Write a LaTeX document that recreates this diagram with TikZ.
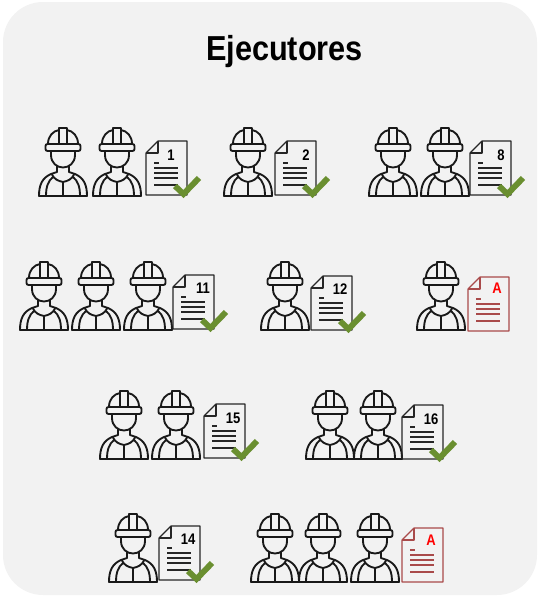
\documentclass[tikz,border=0pt]{standalone}
\usepackage{fontspec}
\setmainfont{Liberation Sans}
\definecolor{panel}{HTML}{F2F2F2}
\definecolor{okgreen}{HTML}{6A8F30}
\definecolor{redline}{HTML}{A94A4A}
\tikzset{
  x=0.75pt,y=-0.75pt,
  wline/.style={line width=1.4pt,black!90,line join=round,line cap=round},
  pics/worker/.style={code={
    \draw[wline] (-15,17) .. controls (-15,9) and (-10,4) .. (-4,3) (4,3) .. controls (10,4) and (15,9) .. (15,17);
    \draw[wline] (-4,17) -- (-4,1) -- (4,1) -- (4,17);
    \draw[wline,rounded corners=1.5pt] (-17.5,17) rectangle (17.5,24);
    \draw[wline] (-12,24) -- (-12,28) .. controls (-12,36) and (-6,40.5) .. (0,40.5) .. controls (6,40.5) and (12,36) .. (12,28) -- (12,24);
    \draw[wline] (-6,39) -- (-6,45) (6,39) -- (6,45);
    \draw[wline] (-24,69) .. controls (-24,58) and (-21,51) .. (-12,47) -- (-6,45) (24,69) .. controls (24,58) and (21,51) .. (12,47) -- (6,45);
    \draw[wline] (-11,47.5) .. controls (-9,52) and (-5,54) .. (0,55) .. controls (5,54) and (9,52) .. (11,47.5);
    \draw[wline] (-17,69) .. controls (-17,60) and (-15,54) .. (-10,50);
    \draw[wline] (17,69) .. controls (17,60) and (15,54) .. (10,50);
    \draw[wline] (0,55) -- (0,69);
    \draw[wline] (-24,69) -- (24,69);
  }},
  pics/sheet/.style={code={
    \draw[line width=0.85pt,#1,line join=round] (12,0) -- (41,0) -- (41,54) -- (0,54) -- (0,12) -- cycle;
    \draw[line width=0.85pt,#1,line join=round] (12,0) -- (12,12) -- (0,12);
    \draw[line width=1.2pt,#1] (8,22) -- (13,22) (8,27) -- (32,27) (8,32) -- (32,32) (8,37) -- (32,37) (8,44) -- (32,44);
  }},
  tick/.style={line width=4.4pt,okgreen,line join=miter},
  num/.style={font=\bfseries\fontsize{11.5}{13}\selectfont,inner sep=0pt,xscale=0.85},
  numred/.style={num,text=red},
}
\begin{document}
\begin{tikzpicture}
\useasboundingbox (0,0) rectangle (540,596);
\fill[panel,rounded corners=30pt] (3,2) rectangle (537,595);
\node[font=\bfseries\fontsize{26}{30}\selectfont,inner sep=0pt,xscale=0.885] (title) at (284.5,52) {Ejecutores};
% workers
\foreach \cx/\ty in {63/127,117/127,248/127,393/127,445/127,
  44/261,96/261,148/261,285/261,441/261,
  124/390,176/390,330/390,378/390,
  133/513,275/513,323/513,375/513}
  \pic at (\cx,\ty) {worker};
% black sheets with tick
\foreach \dx/\dy/\lab/\lx/\ly in {146/141/1/171/155,275/141/2/306/155,470/141/8/501/155,
  173/275/11/203/288,311/276/12/340/289,
  204/404/15/233/418,402/405/16/431/419,
  159/526/14/188/539}{
  \pic at (\dx,\dy) {sheet=black!85};
  \node[num] (n\lab) at (\lx,\ly) {\lab};
  \draw[tick] (\dx+29,\dy+45) -- (\dx+37.5,\dy+53) -- (\dx+53,\dy+37);
}
% red sheets
\foreach \dx/\dy/\lx/\ly/\nm in {468/277/497/288/a,402/528/431/540/b}{
  \pic at (\dx,\dy) {sheet=redline};
  \node[numred] (\nm) at (\lx,\ly) {A};
}
\end{tikzpicture}
\end{document}
